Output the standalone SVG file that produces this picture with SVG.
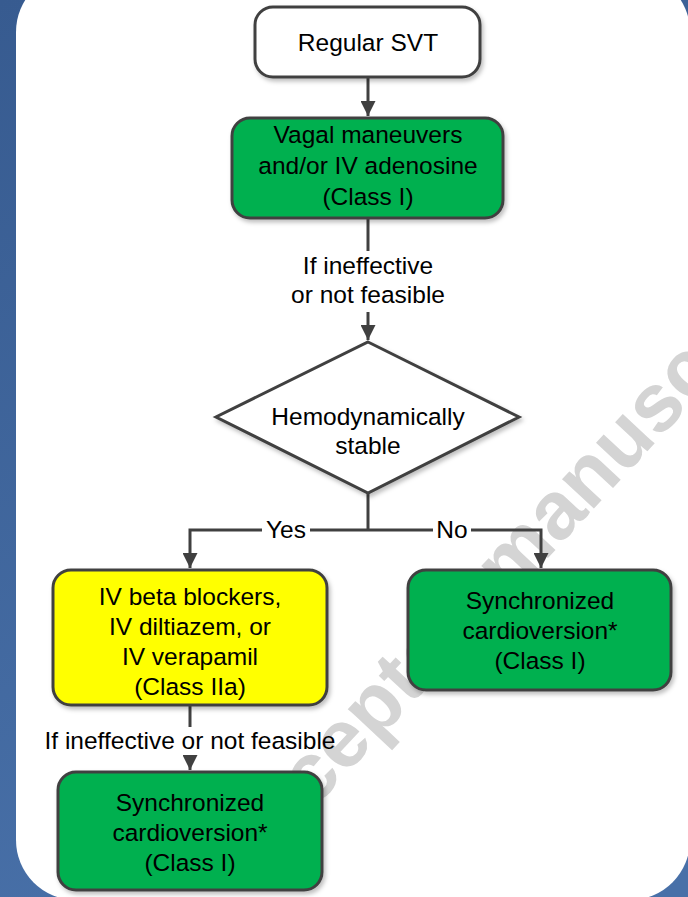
<svg xmlns="http://www.w3.org/2000/svg" width="688" height="897" viewBox="0 0 688 897">
  <defs>
    <linearGradient id="bg" x1="0" y1="0" x2="0.3" y2="1">
      <stop offset="0" stop-color="#375b90"/>
      <stop offset="1" stop-color="#4870a8"/>
    </linearGradient>
    <marker id="arr" viewBox="0 0 10 10" refX="10" refY="5" markerWidth="5" markerHeight="5" orient="auto" markerUnits="strokeWidth">
      <path d="M0,0 L10,5 L0,10 z" fill="#404040"/>
    </marker>
    <filter id="sh" x="-10%" y="-10%" width="130%" height="130%">
      <feDropShadow dx="2" dy="3" stdDeviation="2" flood-color="#000" flood-opacity="0.25"/>
    </filter>
  </defs>
  <style>
    .t { font-family: "Liberation Sans", Arial, sans-serif; font-size: 24.5px; fill: #000; text-anchor: middle; }
    .box { stroke: #404040; stroke-width: 3; filter: url(#sh); }
    .green { fill: #00b050; }
    .yellow { fill: #ffff00; }
    .white { fill: #ffffff; }
    .con { fill: none; stroke: #404040; stroke-width: 3; }
    .wm { font-family: "Liberation Sans", Arial, sans-serif; font-weight: bold; font-size: 82px; fill: #d4d4d4; }
  </style>

  <rect x="0" y="0" width="688" height="897" fill="url(#bg)"/>
  <rect x="16" y="-28" width="674" height="928" rx="60" ry="60" fill="#ffffff"/>

  <text class="wm" x="242" y="886" transform="rotate(-47 242 886)">Accepted manuscript</text>

  <g id="connectors">
    <path class="con" d="M368,77 V116" marker-end="url(#arr)"/>
    <path class="con" d="M368,218 V251"/>
    <text class="t" x="368" y="274">If ineffective</text>
    <text class="t" x="368" y="303">or not feasible</text>
    <path class="con" d="M368,312 V340" marker-end="url(#arr)"/>
    <path class="con" d="M368,493 V530"/>
    <path class="con" d="M368,530 H190 V568" marker-end="url(#arr)"/>
    <path class="con" d="M368,530 H541 V568" marker-end="url(#arr)"/>
    <rect x="262" y="518" width="48" height="24" fill="#ffffff"/>
    <text class="t" x="286" y="538">Yes</text>
    <rect x="433" y="518" width="38" height="24" fill="#ffffff"/>
    <text class="t" x="452" y="538">No</text>
    <path class="con" d="M190,705 V727"/>
    <text class="t" x="190" y="749">If ineffective or not feasible</text>
    <path class="con" d="M190,757 V770" marker-end="url(#arr)"/>
  </g>

  <g id="regular-svt">
    <rect class="box white" x="255" y="7" width="225" height="70" rx="18"/>
    <text class="t" x="368" y="51">Regular SVT</text>
  </g>

  <g id="vagal">
    <rect class="box green" x="232" y="118" width="271" height="100" rx="18"/>
    <text class="t" x="368" y="143">Vagal maneuvers</text>
    <text class="t" x="368" y="174">and/or IV adenosine</text>
    <text class="t" x="368" y="205">(Class I)</text>
  </g>

  <g id="hemodynamically-stable">
    <polygon class="box white" points="368,342 519,417 368,493 216,417"/>
    <text class="t" x="368" y="425">Hemodynamically</text>
    <text class="t" x="368" y="454">stable</text>
  </g>

  <g id="iv-drugs">
    <rect class="box yellow" x="53" y="570" width="274" height="135" rx="18"/>
    <text class="t" x="190" y="605">IV beta blockers,</text>
    <text class="t" x="190" y="635">IV diltiazem, or</text>
    <text class="t" x="190" y="665">IV verapamil</text>
    <text class="t" x="190" y="695">(Class IIa)</text>
  </g>

  <g id="cardioversion-right">
    <rect class="box green" x="408" y="570" width="263" height="120" rx="18"/>
    <text class="t" x="540" y="609">Synchronized</text>
    <text class="t" x="540" y="639">cardioversion*</text>
    <text class="t" x="540" y="669">(Class I)</text>
  </g>

  <g id="cardioversion-bottom">
    <rect class="box green" x="58" y="772" width="264" height="118" rx="18"/>
    <text class="t" x="190" y="811">Synchronized</text>
    <text class="t" x="190" y="841">cardioversion*</text>
    <text class="t" x="190" y="871">(Class I)</text>
  </g>
</svg>
